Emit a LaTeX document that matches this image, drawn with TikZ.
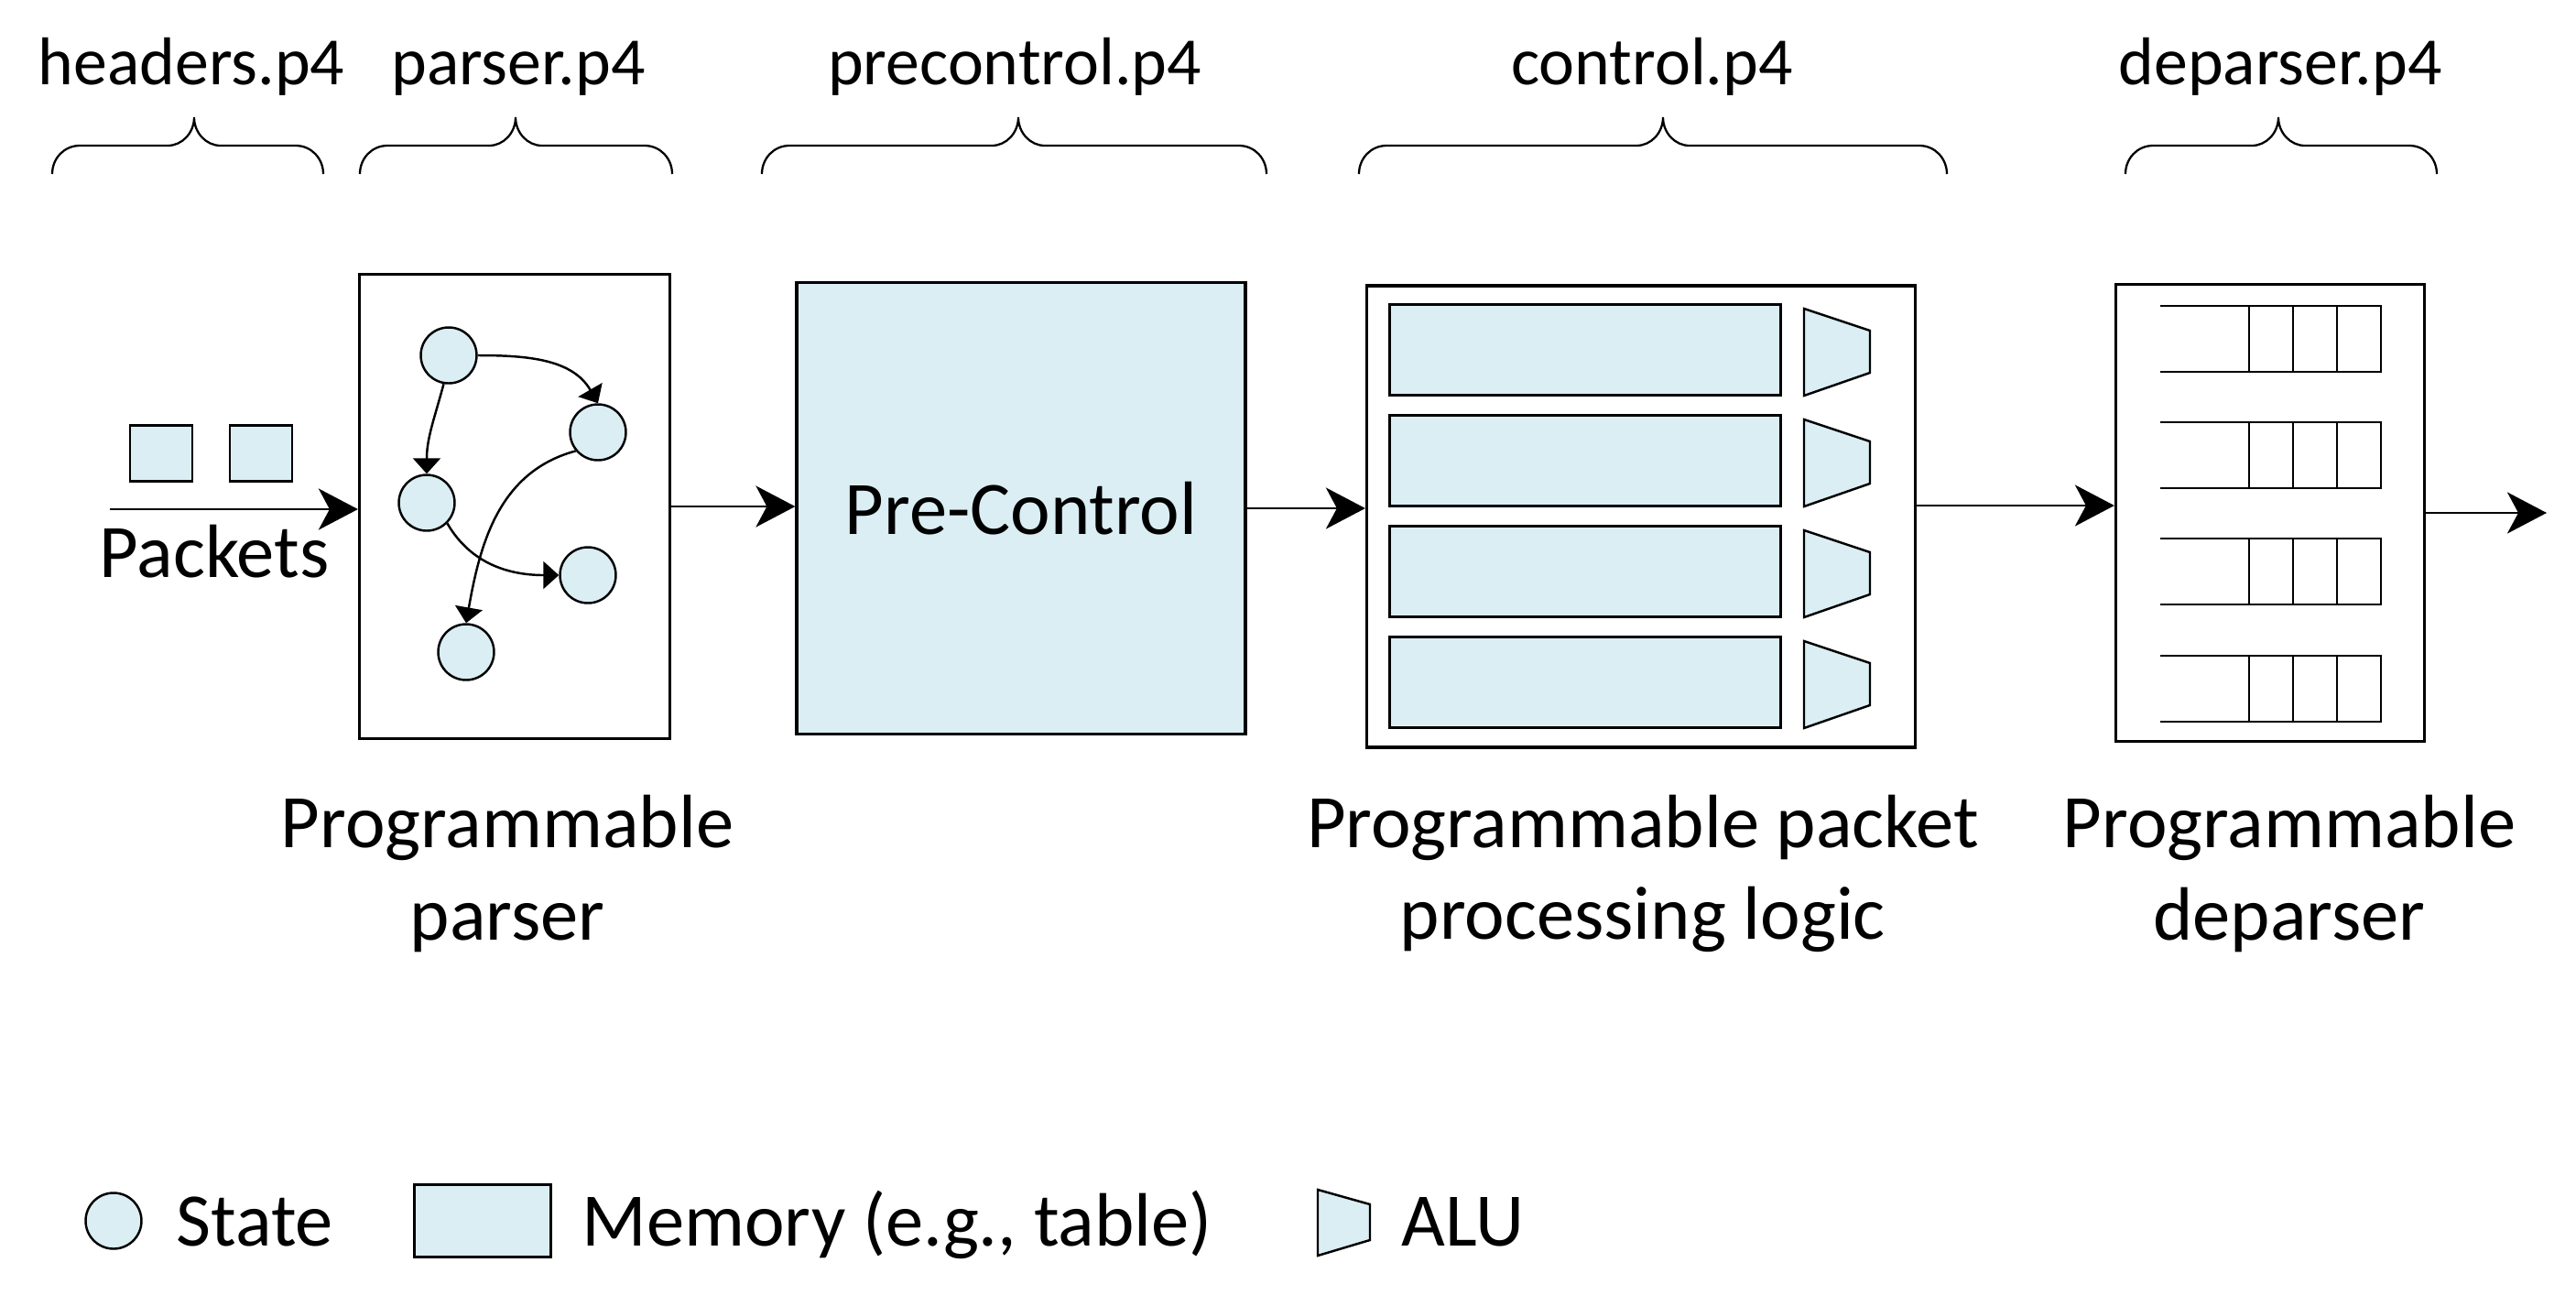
\documentclass[tikz,border=0pt]{standalone}
\usepackage{fontspec}
\setmainfont{Carlito}
\usetikzlibrary{arrows.meta}
\definecolor{cellblue}{HTML}{DAEEF3}

\begin{document}
\begin{tikzpicture}[
		stage/.style={draw, line width=0.9pt, inner sep=0pt},
		cell/.style={draw, fill=cellblue, line width=0.7pt, inner sep=0pt},
		state/.style={circle, draw, fill=cellblue, line width=0.7pt, minimum size=0.61cm, inner sep=0pt},
		queue/.style={line width=0.7pt},
		flow/.style={-{Stealth[length=0.43cm, width=0.45cm, inset=0.12cm]}, line width=0.8pt},
		hop/.style={-{Triangle[length=0.17cm, width=0.3cm]}, line width=0.7pt},
		lbl/.style={font=\fontsize{23.5}{28.6}\selectfont, inner sep=0pt},
		file/.style={font=\fontsize{21}{25}\selectfont, inner sep=0pt, anchor=base}
	]
	\useasboundingbox (0,0) rectangle (28.13,-14.25);
	\foreach \l/\m/\r/\x/\txt [count=\i] in {0.57/2.12/3.53/2.09/headers.p4, 3.93/5.63/7.34/5.66/parser.p4, 8.32/11.12/13.83/11.08/precontrol.p4, 14.84/18.16/21.26/18.04/control.p4, 23.21/24.88/26.61/24.90/deparser.p4} {
		\node[file] (file\i) at (\x,-0.92) {\txt};
		\draw[line width=0.65pt] (\l,-1.90) .. controls (\l,-1.73) and (\l+0.13,-1.59) .. (\l+0.30,-1.59) -- (\m-0.29,-1.59) .. controls (\m-0.13,-1.59) and (\m,-1.45) .. (\m,-1.28) .. controls (\m,-1.45) and (\m+0.13,-1.59) .. (\m+0.29,-1.59) -- (\r-0.30,-1.59) .. controls (\r-0.13,-1.59) and (\r,-1.73) .. (\r,-1.90);
	}
	\node[stage, minimum width=3.39cm, minimum height=5.07cm] (parser) at (5.62,-5.53) {};
	\node[stage, fill=cellblue, minimum width=4.90cm, minimum height=4.93cm, lbl] (precontrol) at (11.15,-5.55) {Pre-Control};
	\node[stage, minimum width=5.99cm, minimum height=5.04cm] (control) at (17.92,-5.64) {};
	\node[stage, minimum width=3.37cm, minimum height=4.99cm] (deparser) at (24.79,-5.60) {};
	\node[cell, minimum width=0.68cm, minimum height=0.61cm] (pkt1) at (1.76,-4.95) {};
	\node[cell, minimum width=0.68cm, minimum height=0.61cm] (pkt2) at (2.85,-4.95) {};
	\node[lbl, anchor=base] (packets) at (2.34,-6.30) {Packets};
	\coordinate (in) at (1.20,-5.56);
	\coordinate (out) at (27.81,-5.58);
	\foreach \n/\x/\y in {1/4.90/-3.88, 2/6.53/-4.72, 3/4.66/-5.49, 4/6.42/-6.28, 5/5.09/-7.12} {
		\node[state] (s\n) at (\x,\y) {};
	}
	\draw[hop] (s1.east) to[out=0, in=120] (s2.north);
	\draw[hop] (s1.-100) to[out=-105, in=90] (s3.north);
	\draw[hop] (s3.-45) to[out=-60, in=180] (s4.west);
	\draw[hop] (s2.220) to[out=195, in=80] (s5.north);
	\foreach \y [count=\i] in {-3.82, -5.03, -6.24, -7.45} {
		\node[cell, minimum width=4.27cm, minimum height=0.99cm] (mem\i) at (17.31,\y) {};
		\draw[cell] (19.70,\y+0.45) -- (20.42,\y+0.21) -- (20.42,\y-0.25) -- (19.70,\y-0.50) -- cycle;
	}
	\foreach \y in {-3.34, -4.61, -5.88, -7.16} {
		\draw[queue] (23.59,\y) -- (26.00,\y) -- (26.00,\y-0.72) -- (23.59,\y-0.72);
		\foreach \x in {24.56, 25.04, 25.52} {
			\draw[queue] (\x,\y) -- (\x,\y-0.72);
		}
	}
	\draw[flow] (in) -- (in -| parser.west);
	\draw[flow] (parser.east) -- (parser.east -| precontrol.west);
	\draw[flow] (precontrol.east) -- (precontrol.east -| control.west);
	\draw[flow] ([yshift=0.12cm]control.east) -- ([yshift=0.12cm]control.east -| deparser.west);
	\draw[flow] (deparser.east) -- (deparser.east -| out);
	\node[lbl, align=center] (parserlbl) at (5.54,-9.54) {Programmable\\parser};
	\node[lbl, align=center] (controllbl) at (17.94,-9.54) {Programmable packet\\processing logic};
	\node[lbl, align=center] (deparserlbl) at (25.00,-9.54) {Programmable\\deparser};
	\node[state] (keystate) at (1.24,-13.33) {};
	\node[lbl, anchor=base west] (keystatetxt) at (1.92,-13.60) {State};
	\node[cell, minimum width=1.49cm, minimum height=0.79cm] (keymem) at (5.27,-13.33) {};
	\node[lbl, anchor=base west] (keymemtxt) at (6.35,-13.60) {Memory (e.g., table)};
	\draw[cell] (14.39,-12.99) -- (14.96,-13.15) -- (14.96,-13.54) -- (14.39,-13.71) -- cycle;
	\node[lbl, anchor=base west] (keyalutxt) at (15.30,-13.60) {ALU};
\end{tikzpicture}
\end{document}
